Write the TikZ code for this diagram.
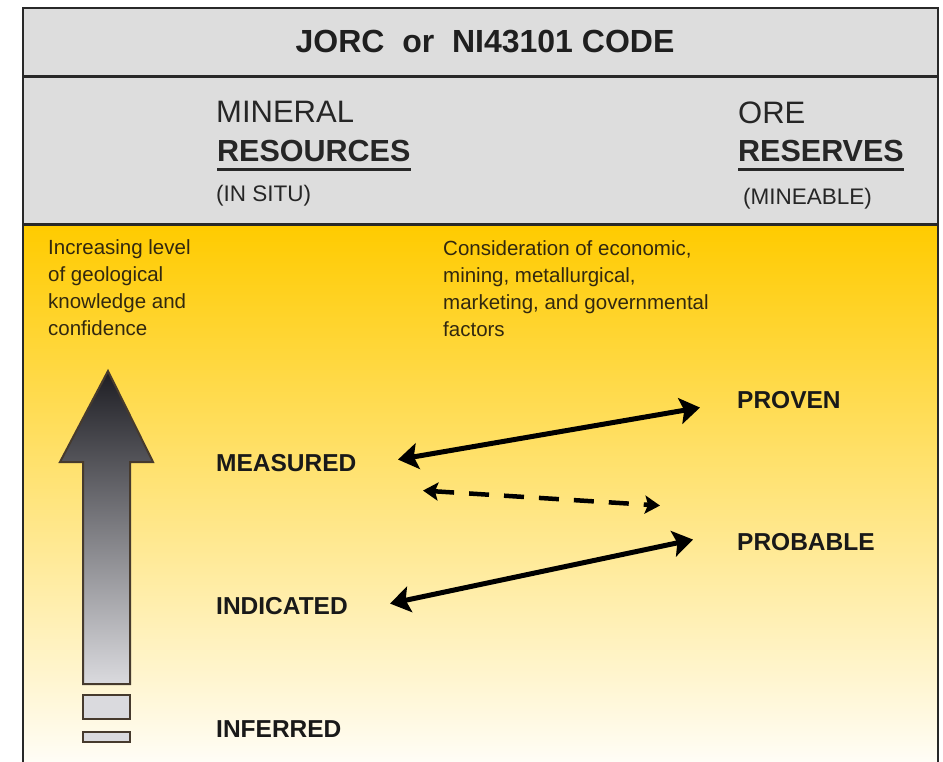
\documentclass[tikz,border=0pt]{standalone}
\usepackage{fontspec}
\setmainfont{Liberation Sans}
\usetikzlibrary{arrows.meta,positioning,calc}
\definecolor{hdrfill}{RGB}{221,221,221}
\definecolor{goldtop}{RGB}{255,203,0}
\definecolor{goldmid}{RGB}{253,226,112}
\definecolor{goldlow}{RGB}{255,253,246}
\definecolor{framecol}{RGB}{40,40,40}
\definecolor{arrowtop}{RGB}{30,30,36}
\definecolor{arrowmid}{RGB}{140,140,146}
\definecolor{arrowlow}{RGB}{218,218,222}
\definecolor{notetext}{RGB}{50,40,15}
\tikzset{
  codetitle/.style={font=\bfseries\fontsize{32}{37}\selectfont,inner sep=0pt,text=black!88},
  coltitle/.style={font=\fontsize{31}{36}\selectfont,inner sep=0pt,anchor=base west,text=black!85},
  colbold/.style={font=\bfseries\fontsize{30.5}{36}\selectfont,inner sep=0pt,anchor=base west,text=black!85},
  colnote/.style={font=\fontsize{22.5}{27}\selectfont,inner sep=0pt,anchor=base west,text=black!85},
  note/.style={font=\fontsize{20.5}{27}\selectfont,inner sep=0pt,anchor=north west,align=left,text=notetext},
  category/.style={font=\bfseries\fontsize{24.5}{29}\selectfont,inner sep=0pt,anchor=base west,text=black!90},
  uline/.style={line width=3pt,framecol},
  biarrow/.style={line width=5pt,{Stealth[length=20pt,width=26pt,inset=4pt]}-{Stealth[length=20pt,width=26pt,inset=4pt]}},
  dasharrow/.style={line width=4.5pt,dash pattern=on 20pt off 15pt,{Stealth[length=15pt,width=18pt,inset=3pt]}-{Stealth[length=15pt,width=18pt,inset=3pt]}},
  stepmark/.style={draw=framecol!80!brown,line width=2pt,fill=arrowlow}
}

\begin{document}
\begin{tikzpicture}[x=1pt,y=-1pt]
  \useasboundingbox (0,0) rectangle (943,762);
  % panels
  \fill[hdrfill] (23,8) rectangle (938,225);
  \shade[top color=goldtop,middle color=goldmid,bottom color=goldlow] (23,225) rectangle (938,762);
  \draw[framecol,line width=2pt] (23,762) -- (23,8) -- (938,8) -- (938,762);
  \draw[framecol,line width=3pt] (23,77) -- (938,77);
  \draw[framecol,line width=3pt] (23,225) -- (938,225);

  \node[codetitle] (code) at (485,42) {JORC\ \ or\ \ NI43101 CODE};

  \node[coltitle] (mineral) at (216,123) {MINERAL};
  \node[colbold] (res) at (217,162) {RESOURCES};
  \node[colnote] (insitu) at (216,202) {(IN SITU)};
  \node[coltitle] (ore) at (738,124) {ORE};
  \node[colbold] (resv) at (738,162) {RESERVES};
  \node[colnote] (mine) at (743,205) {(MINEABLE)};
  \draw[uline] ([yshift=-8pt]res.base west) -- ([yshift=-8pt]res.base east);
  \draw[uline] ([yshift=-8pt]resv.base west) -- ([yshift=-8pt]resv.base east);

  \node[note] (know) at (48,239) {Increasing level\\of geological\\knowledge and\\confidence};
  \node[note] (factors) at (443,240) {Consideration of economic,\\mining, metallurgical,\\marketing, and governmental\\factors};

  \node[category] (prov) at (737,408) {PROVEN};
  \node[category] (meas) at (216,471) {MEASURED};
  \node[category] (prob) at (737,550) {PROBABLE};
  \node[category] (ind) at (216,614) {INDICATED};
  \node[category] (inf) at (216,737) {INFERRED};

  % confidence arrow
  \shade[top color=arrowtop,middle color=arrowmid,bottom color=arrowlow,draw=framecol!80!brown,line width=2pt]
    (108,371) -- (153,462) -- (130,462) -- (130,684) -- (83,684) -- (83,462) -- (60,462) -- cycle;
  \draw[stepmark] (83,695) rectangle (130,719);
  \draw[stepmark] (83,732) rectangle (130,742);

  \draw[biarrow] ($(meas.west)+(182,-3)$) -- ($(prov.west)+(-37,8)$);
  \draw[dasharrow] ($(meas.west)+(207,28)$) -- ($(prob.west)+(-77,-36)$);
  \draw[biarrow] ($(ind.west)+(174,-2)$) -- ($(prob.west)+(-44,-2)$);
\end{tikzpicture}
\end{document}
